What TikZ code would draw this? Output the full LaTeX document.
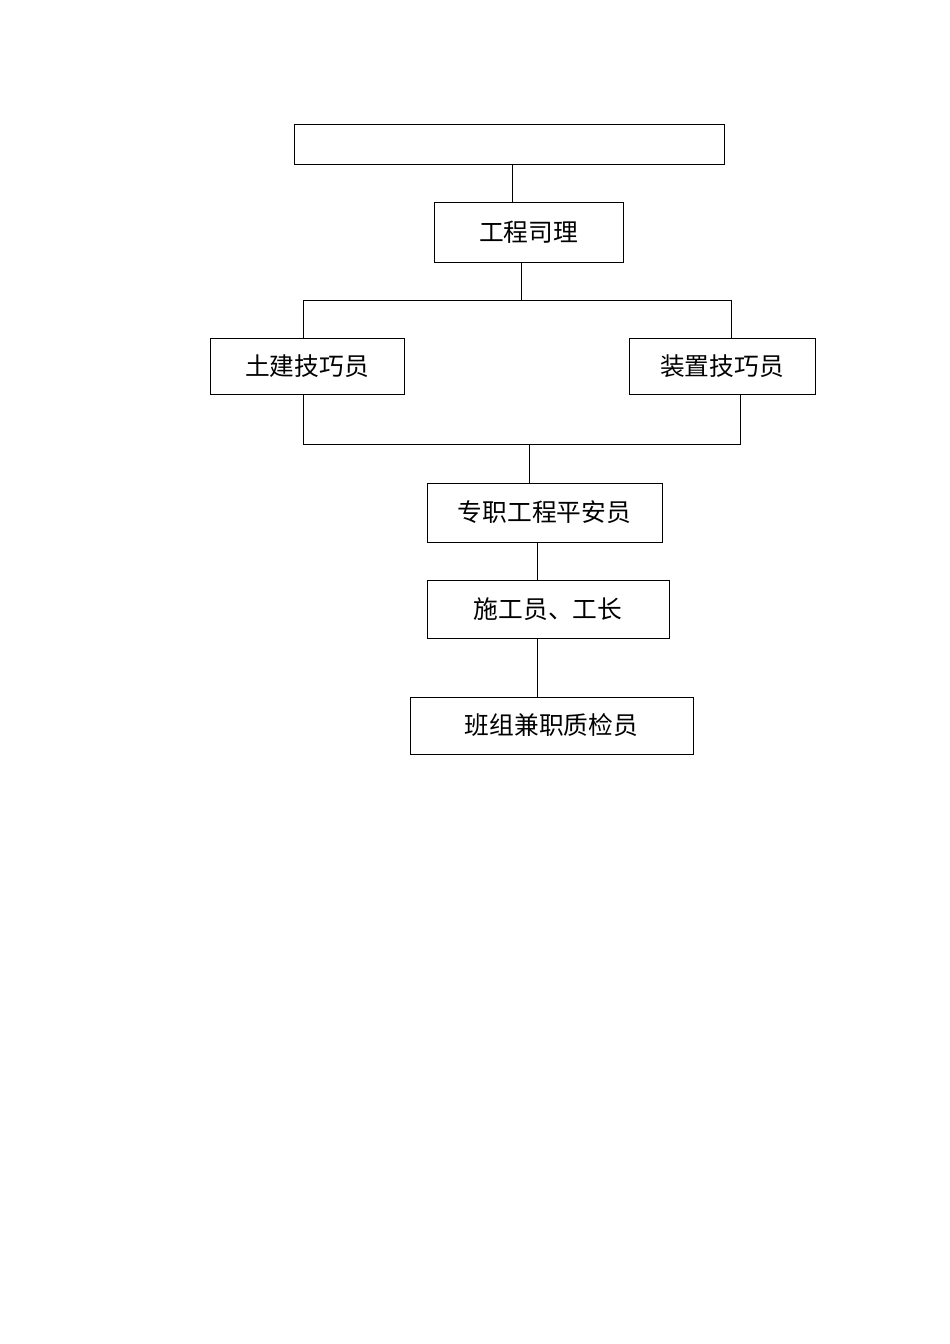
\documentclass[tikz,border=0pt]{standalone}
\usepackage{fontspec}
\newfontfamily\cjk{Noto Sans CJK SC}
\begin{document}
\begin{tikzpicture}[x=0.6266pt,y=-0.6266pt,
  line width=0.6pt,
  box/.style 2 args={draw, rectangle, inner sep=0pt, outer sep=0pt,
    minimum width=#1*0.6266pt, minimum height=#2*0.6266pt,
    font=\cjk\fontsize{15.5pt}{18pt}\selectfont},
  link/.style={draw, line width=0.6pt}]
\useasboundingbox (0,0) rectangle (950,1344);
\node[box={430}{40}] (top) at (509,144.5) {};
\node[box={189}{60}] (mgr) at (528.5,232.5) {工程司理};
\node[box={194}{56}] (civ) at (307,366) {土建技巧员};
\node[box={186}{56}] (ins) at (722,366) {装置技巧员};
\node[box={235}{59}] (saf) at (544.5,512.5) {专职工程平安员};
\node[box={242}{58}] (con) at (548,609) {施工员、工长};
\node[box={283}{57}] (qc) at (551.5,725.5) {班组兼职质检员};
\coordinate (j1) at (512,0);
\coordinate (b1) at (521,300);
\coordinate (bl) at (303,300);
\coordinate (br) at (731,300);
\coordinate (ml) at (303,444);
\coordinate (mr) at (740,444);
\coordinate (mc) at (529,444);
\coordinate (j2) at (537,0);
\draw[link] (j1 |- top.south) -- (j1 |- mgr.north);
\draw[link] (b1 |- mgr.south) -- (b1);
\draw[link] (bl |- civ.north) -- (bl) -- (br) -- (br |- ins.north);
\draw[link] (ml |- civ.south) -- (ml) -- (mr) -- (mr |- ins.south);
\draw[link] (mc) -- (mc |- saf.north);
\draw[link] (j2 |- saf.south) -- (j2 |- con.north);
\draw[link] (j2 |- con.south) -- (j2 |- qc.north);
\end{tikzpicture}
\end{document}
